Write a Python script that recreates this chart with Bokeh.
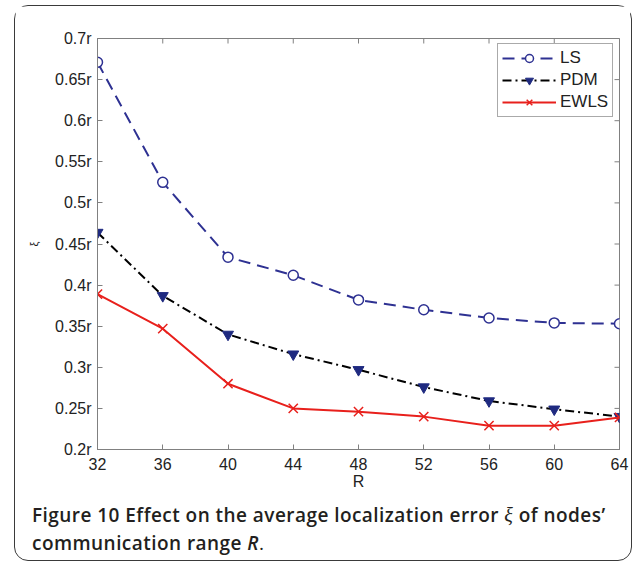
import math
from bokeh.plotting import figure
from bokeh.models import FixedTicker, Range1d, Legend, Div
from bokeh.layouts import column
from bokeh.embed import file_html
from bokeh.resources import INLINE

R = [32, 36, 40, 44, 48, 52, 56, 60, 64]
ls_vals = [0.671, 0.525, 0.434, 0.412, 0.382, 0.370, 0.360, 0.354, 0.353]
pdm_vals = [0.464, 0.387, 0.340, 0.316, 0.297, 0.276, 0.259, 0.249, 0.240]
ewls_vals = [0.389, 0.347, 0.280, 0.250, 0.246, 0.240, 0.229, 0.229, 0.239]
y_ticks = [0.2, 0.25, 0.3, 0.35, 0.4, 0.45, 0.5, 0.55, 0.6, 0.65, 0.7]
y_tick_labels = ["0.2r", "0.25r", "0.3r", "0.35r", "0.4r", "0.45r", "0.5r", "0.55r", "0.6r", "0.65r", "0.7r"]
caption_bold = "Figure 10"
caption_rest = "Effect on the average localization error"
caption_sym = "ξ"
caption_end = "of nodes’"
caption_line2 = "communication range"
caption_var = "R"

p = figure(width=615, height=489, output_backend="svg", toolbar_location=None,
           x_range=Range1d(R[0], R[-1]), y_range=Range1d(y_ticks[0], y_ticks[-1]),
           min_border_left=82, min_border_right=11, min_border_top=32, min_border_bottom=46)
p.grid.visible = False
p.outline_line_color = "#808080"
p.outline_line_width = 1
p.background_fill_color = "white"
p.border_fill_color = "white"

FONT = "Liberation Sans"
GRAY = "#808080"
for ax in [p.xaxis[0], p.yaxis[0]]:
    ax.major_tick_in = 5
    ax.major_tick_out = 0
    ax.minor_tick_line_color = None
    ax.axis_line_color = GRAY
    ax.major_tick_line_color = GRAY
    ax.major_label_text_font = FONT
    ax.major_label_text_font_size = "16px"
    ax.major_label_text_color = "#222222"
    ax.axis_label_text_font = FONT
    ax.axis_label_text_font_style = "normal"
    ax.axis_label_text_color = "#222222"

p.xaxis.ticker = FixedTicker(ticks=R)
p.xaxis.axis_label = "R"
p.xaxis.axis_label_text_font_size = "16px"
p.xaxis.axis_label_standoff = 0
p.xaxis.major_label_standoff = 8
p.yaxis.ticker = FixedTicker(ticks=y_ticks)
p.yaxis.major_label_overrides = {t: l for t, l in zip(y_ticks, y_tick_labels)}
p.yaxis.axis_label = "ξ"
p.yaxis.axis_label_text_font_size = "11px"
p.yaxis.axis_label_standoff = 12
p.yaxis.major_label_standoff = 6

# inward ticks on the top and right edges of the box
p.scatter(R, [p.y_range.end] * len(R), marker="dash", angle=math.pi / 2, size=10,
          line_color=GRAY, line_width=1)
p.scatter([p.x_range.end] * len(y_ticks), y_ticks, marker="dash", size=10,
          line_color=GRAY, line_width=1)

BLUE = "#2e3192"
RED = "#e8201c"
NAVY = "#1f2a80"
l1 = p.line(R, ls_vals, line_color=BLUE, line_width=2, line_dash="12 7")
m1 = p.scatter(R, ls_vals, marker="circle", size=10, fill_color="white", line_color=BLUE, line_width=1.5)
l2 = p.line(R, pdm_vals, line_color="black", line_width=2, line_dash="9 4 2 4")
m2 = p.scatter(R, pdm_vals, marker="inverted_triangle", size=11, fill_color=NAVY, line_color=NAVY)
l3 = p.line(R, ewls_vals, line_color=RED, line_width=2)
m3 = p.scatter(R, ewls_vals, marker="x", size=13, line_color=RED, line_width=1.5)

legend = Legend(items=[("LS", [l1, m1]), ("PDM", [l2, m2]), ("EWLS", [l3, m3])],
                location=(400, 332), margin=0, padding=4, spacing=2,
                glyph_width=54, glyph_height=20, label_height=20, label_standoff=4,
                label_text_font=FONT, label_text_font_size="17px", label_text_color="#222222",
                border_line_color="#555555", border_line_width=1, background_fill_alpha=1)
p.add_layout(legend)

html = (
    '<div style="padding:1px 0 0 12px; font-family:\'Open Sans\'; font-size:19px; '
    'font-weight:600; letter-spacing:0.45px; line-height:28px; color:#231f20; white-space:nowrap;">'
    f'{caption_bold} {caption_rest} <i style="font-family:\'Liberation Serif\'; font-weight:400; font-size:20px;">{caption_sym}</i> {caption_end}<br>'
    f'{caption_line2} <i>{caption_var}</i><span style="font-weight:400;">.</span></div>'
)
cap = Div(text=html, width=615, height=64)

layout = column(p, cap, margin=(5, 0, 0, 14), spacing=0, width=618, height=556,
                styles={"border": "1.5px solid #3a3a3a", "border-radius": "14px"})

open("out.html", "w").write(file_html(layout, INLINE))
